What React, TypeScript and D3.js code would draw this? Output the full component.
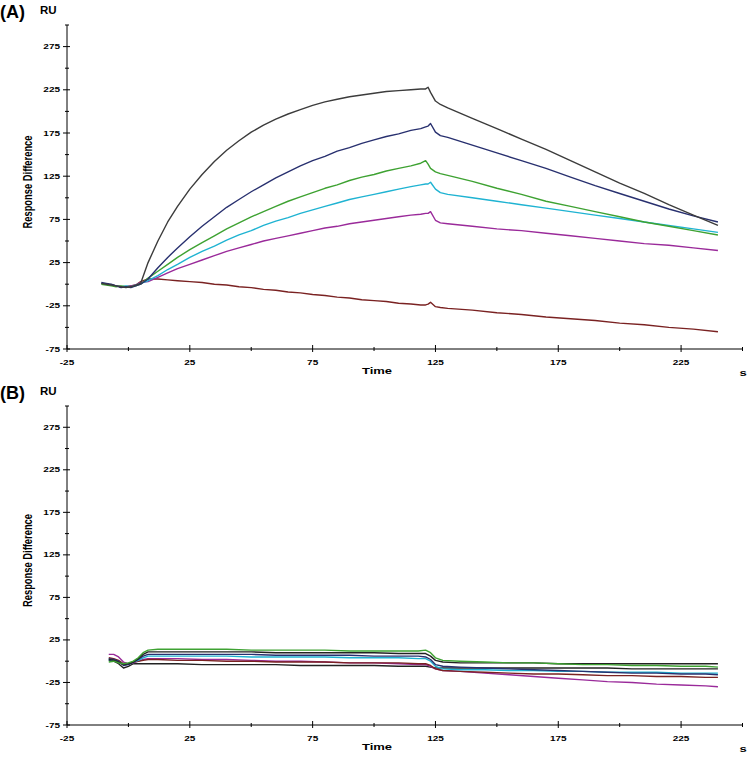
import React from 'react'
import * as d3 from 'd3'

// time points (s) for panel A
const timeA = [-11, -9, -7, -5, -3, -1, 1, 3, 5, 8, 12, 16, 20, 25, 30, 35, 40, 45, 50, 55, 60, 65, 70, 75, 80, 85, 90, 95, 100, 105, 110, 115, 119, 121, 122, 123, 125, 127, 130, 140, 150, 160, 170, 180, 190, 200, 210, 220, 230, 240]

const blackA = [1, 0, -1, -2, -3, -4, -3, -1, 1, 25, 50, 72, 90, 110, 127, 142, 155, 166, 176, 184, 191, 197, 202, 207, 211, 214, 217, 219, 221, 223, 224, 225, 226, 226, 228, 222, 212, 208, 204, 192, 180, 168, 156, 143, 130, 117, 105, 92, 80, 68]
const navyA = [2, 1, 0, -2, -4, -3, -4, -2, 0, 6, 19, 31, 42, 55, 67, 78, 89, 98, 107, 115, 123, 130, 137, 143, 148, 154, 158, 163, 167, 171, 174, 178, 180, 182, 183, 186, 176, 172, 170, 161, 152, 143, 134, 124, 114, 105, 96, 87, 79, 72]
const greenA = [0, -1, -2, -3, -2, -3, -3, -2, 0, 7, 15, 23, 31, 40, 48, 56, 64, 71, 78, 84, 90, 96, 101, 106, 111, 115, 120, 124, 127, 131, 134, 137, 140, 143, 139, 134, 130, 128, 126, 119, 111, 104, 96, 90, 84, 78, 72, 67, 62, 57]
const cyanA = [1, 0, -1, -2, -3, -2, -3, -1, 1, 4, 10, 17, 23, 31, 38, 44, 51, 57, 62, 68, 73, 77, 82, 86, 90, 94, 98, 101, 104, 107, 110, 113, 115, 116, 116, 118, 110, 106, 104, 100, 96, 92, 88, 84, 80, 76, 72, 68, 64, 60]
const purpleA = [1, 0, -1, -2, -3, -3, -2, -1, 2, 3, 8, 13, 18, 23, 28, 33, 38, 42, 46, 50, 53, 56, 59, 62, 65, 67, 70, 72, 74, 76, 78, 80, 81, 82, 82, 84, 74, 71, 70, 67, 64, 62, 59, 56, 53, 50, 47, 45, 42, 39]
const brownA = [1, 0, -1, -2, -3, -3, -2, -1, 3, 6, 6, 5, 4, 3, 2, 0, -1, -3, -4, -6, -7, -9, -10, -12, -13, -15, -16, -18, -19, -20, -22, -23, -24, -24, -23, -21, -26, -27, -28, -30, -33, -35, -38, -40, -42, -45, -47, -50, -52, -55]

// time points (s) for panel B
const timeB = [-8, -6, -4, -2, 0, 2, 4, 6, 8, 12, 20, 30, 40, 50, 60, 70, 80, 90, 100, 110, 118, 121, 123, 125, 128, 135, 145, 155, 165, 175, 185, 195, 205, 215, 225, 235, 240]

const greenB = [-1, 0, -2, -3, -2, 0, 4, 10, 13, 14, 14, 14, 14, 13, 13, 13, 13, 12, 12, 12, 12, 13, 10, 4, 1, 0, -1, -2, -2, -3, -4, -4, -5, -5, -6, -6, -7]
const blackB = [2, 1, -1, -4, -3, -1, 3, 8, 11, 11, 11, 11, 11, 11, 10, 10, 10, 10, 10, 9, 9, 9, 6, 1, -1, -2, -2, -2, -2, -3, -3, -3, -3, -3, -3, -3, -3]
const navyB = [3, 2, 0, -5, -4, -1, 2, 6, 8, 8, 8, 8, 8, 8, 7, 7, 7, 7, 6, 6, 6, 5, 2, -4, -6, -7, -8, -9, -10, -11, -12, -13, -14, -14, -15, -15, -16]
const cyanB = [2, 1, -1, -4, -3, -1, 1, 4, 6, 6, 6, 6, 6, 5, 5, 5, 5, 4, 4, 4, 3, 3, 0, -6, -9, -10, -10, -11, -11, -12, -12, -13, -13, -13, -14, -14, -14]
const purpleB = [8, 8, 5, -1, -3, -2, 0, 2, 3, 3, 3, 2, 2, 1, 0, 0, -1, -2, -2, -3, -4, -4, -6, -9, -11, -12, -14, -16, -18, -20, -22, -24, -25, -27, -28, -29, -30]
const brownB = [4, 3, 1, -3, -3, -1, 0, 1, 2, 2, 1, 1, 0, 0, -1, -1, -1, -2, -2, -2, -3, -3, -5, -9, -11, -12, -13, -14, -15, -15, -16, -17, -17, -18, -18, -19, -19]
const black2B = [1, 0, -3, -8, -6, -3, -3, -3, -3, -3, -3, -4, -4, -4, -4, -5, -5, -5, -5, -6, -6, -6, -7, -8, -8, -8, -8, -8, -8, -8, -8, -8, -9, -9, -9, -9, -9]

const yMajor = [-75, -25, 25, 75, 125, 175, 225, 275]
const yMinor = [-50, 0, 50, 100, 150, 200, 250, 300]
const xMajor = [-25, 25, 75, 125, 175, 225]
const xMinor = [0, 50, 100, 150, 200, 250]

const COLORS = {
  black: '#3c3c3c',
  navy: '#28306f',
  green: '#3ea232',
  cyan: '#1fb3d2',
  purple: '#9a2a9a',
  brown: '#7a2222',
}

const seriesA = [
  { key: 'brown', color: COLORS.brown, values: brownA },
  { key: 'purple', color: COLORS.purple, values: purpleA },
  { key: 'cyan', color: COLORS.cyan, values: cyanA },
  { key: 'green', color: COLORS.green, values: greenA },
  { key: 'navy', color: COLORS.navy, values: navyA },
  { key: 'black', color: COLORS.black, values: blackA },
]

const seriesB = [
  { key: 'black2', color: '#222', values: black2B },
  { key: 'purple', color: COLORS.purple, values: purpleB },
  { key: 'brown', color: COLORS.brown, values: brownB },
  { key: 'cyan', color: COLORS.cyan, values: cyanB },
  { key: 'navy', color: COLORS.navy, values: navyB },
  { key: 'black', color: '#222', values: blackB },
  { key: 'green', color: COLORS.green, values: greenB },
]

const FONT = "'Liberation Sans', Arial, sans-serif"
const SQ = 0.75 // text in the source is vertically squashed

function Panel({ label, y0, y1, time, series }: any) {
  const x = d3.scaleLinear().domain([-25, 250]).range([67, 742.5])
  const y = d3.scaleLinear().domain([-75, 300]).range([y0, y1])
  const line = d3.line<number>().x((_, i) => x(time[i])).y(d => y(d))
  const ax = x(-25)
  const ay = y(-75)

  return (
    <g>
      <text x={0} y={y1 - 7} fontFamily={FONT} fontWeight="bold" fontSize={18}>{label}</text>
      <text x={40} y={y1 - 11} fontFamily={FONT} fontWeight="bold" fontSize={11.5}>RU</text>
      <text transform={`translate(27,${(y0 + y1) / 2 - 5}) rotate(-90) scale(0.72,1)`} textAnchor="middle"
        dominantBaseline="central" fontFamily={FONT} fontWeight="bold" fontSize={13}>Response Difference</text>

      {series.map((s: any) => (
        <path key={s.key} d={line(s.values) || ''} fill="none" stroke={s.color} strokeWidth={1.4} strokeLinejoin="round" />
      ))}

      <line x1={ax} x2={ax} y1={y1} y2={ay} stroke="#000" strokeWidth={1} />
      <line x1={ax} x2={x(250)} y1={ay} y2={ay} stroke="#000" strokeWidth={1} />

      {yMajor.map(v => (
        <g key={'ym' + v}>
          <line x1={ax - 4} x2={ax + 3} y1={y(v)} y2={y(v)} stroke="#000" />
          <text transform={`translate(${ax - 7},${y(v)}) scale(1,${SQ})`} textAnchor="end" dominantBaseline="central"
            fontFamily={FONT} fontWeight="bold" fontSize={10}>{v}</text>
        </g>
      ))}
      {yMinor.map(v => (
        <line key={'yn' + v} x1={ax - 2} x2={ax + 2} y1={y(v)} y2={y(v)} stroke="#000" />
      ))}
      {xMajor.map(v => (
        <g key={'xm' + v}>
          <line x1={x(v)} x2={x(v)} y1={ay - 4} y2={ay + 3} stroke="#000" />
          <text transform={`translate(${x(v)},${ay + 13}) scale(1,${SQ})`} textAnchor="middle" dominantBaseline="central"
            fontFamily={FONT} fontWeight="bold" fontSize={10}>{v}</text>
        </g>
      ))}
      {xMinor.map(v => (
        <line key={'xn' + v} x1={x(v)} x2={x(v)} y1={ay - 2} y2={ay + 2} stroke="#000" />
      ))}
      <text transform={`translate(377,${ay + 22}) scale(1,${SQ})`} textAnchor="middle" dominantBaseline="central"
        fontFamily={FONT} fontWeight="bold" fontSize={13}>Time</text>
      <text transform={`translate(743,${ay + 24}) scale(1,${SQ})`} textAnchor="middle" dominantBaseline="central"
        fontFamily={FONT} fontWeight="bold" fontSize={13}>s</text>
    </g>
  )
}

export default function App() {
  return (
    <svg width={748} height={760} style={{ position: 'absolute', left: 0, top: 0, background: '#fff' }}>
      <rect width={748} height={760} fill="#fff" />
      <Panel label="(A)" y0={349} y1={25} time={timeA} series={seriesA} />
      <Panel label="(B)" y0={725} y1={406} time={timeB} series={seriesB} />
    </svg>
  )
}
